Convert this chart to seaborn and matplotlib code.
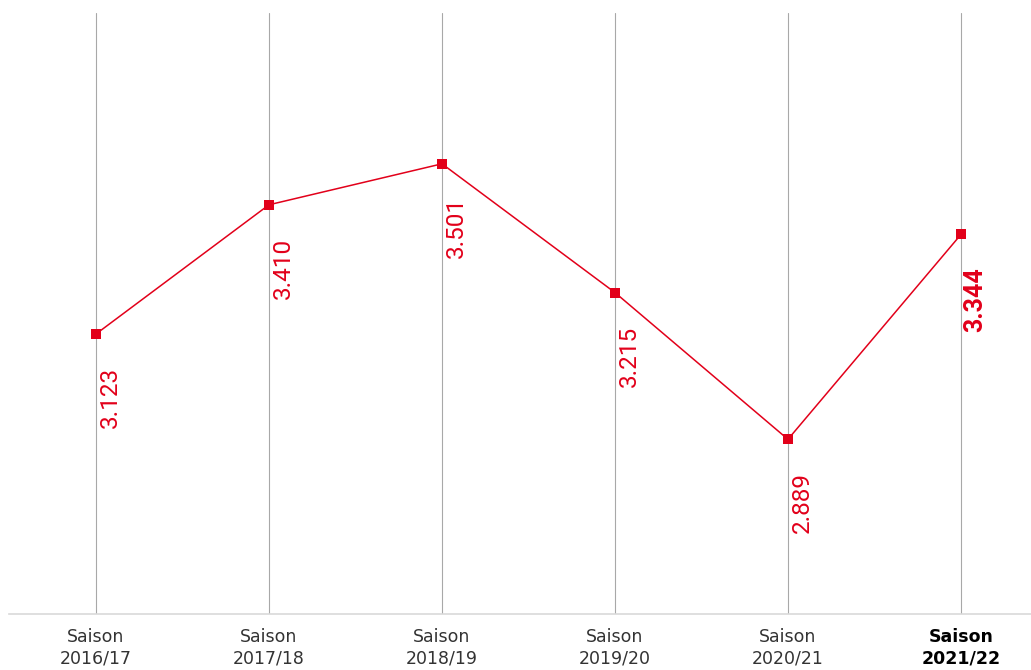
import matplotlib
matplotlib.use("Agg")
import matplotlib.pyplot as plt
import seaborn as sns
import pandas as pd

seasons = ["2016/17", "2017/18", "2018/19", "2019/20", "2020/21", "2021/22"]
values = [3123, 3410, 3501, 3215, 2889, 3344]
value_labels = ["3.123", "3.410", "3.501", "3.215", "2.889", "3.344"]

RED = "#e2001a"

sns.set_theme(style="white")
plt.rcParams["font.family"] = ["DejaVu Sans"]

df = pd.DataFrame({"season": seasons, "value": values})

fig = plt.figure(figsize=(10.31, 6.70), dpi=100)
ax = fig.add_axes([9 / 1031, 56 / 670, 1 - 9 / 1031, (614 - 13) / 670])

sns.lineplot(data=df, x="season", y="value", ax=ax, color=RED, linewidth=1.1,
             marker="s", markersize=6.5, markeredgewidth=0, sort=False)

ax.set_xlim(-0.503, 5.405)
ax.set_ylim(2501, 3836)
ax.set_yticks([])
ax.set_xlabel("")
ax.set_ylabel("")

ax.xaxis.grid(True, color="#a8a8a8", linewidth=0.8)
ax.yaxis.grid(False)
ax.set_axisbelow(True)
for s in ["top", "right", "left"]:
    ax.spines[s].set_visible(False)
ax.spines["bottom"].set_color("#d9d9d9")
ax.spines["bottom"].set_linewidth(1.2)

ax.set_xticks(range(len(seasons)))
ax.set_xticklabels(["Saison\n" + s for s in seasons], fontsize=12.5, color="#333333",
                   linespacing=1.25)
ax.tick_params(axis="x", length=0, pad=10)
last = ax.get_xticklabels()[-1]
last.set_fontweight("bold")
last.set_color("#000000")

for i, (v, lab) in enumerate(zip(values, value_labels)):
    bold = i == len(values) - 1
    ax.annotate(lab, xy=(i, v), xytext=(14, -33), textcoords="offset pixels",
                rotation=90, ha="center", va="top", color=RED,
                fontsize=17.5 if not bold else 18,
                fontweight="bold" if bold else "normal",
                family=["Roboto", "DejaVu Sans"])

fig.savefig("out.png", dpi=100)
